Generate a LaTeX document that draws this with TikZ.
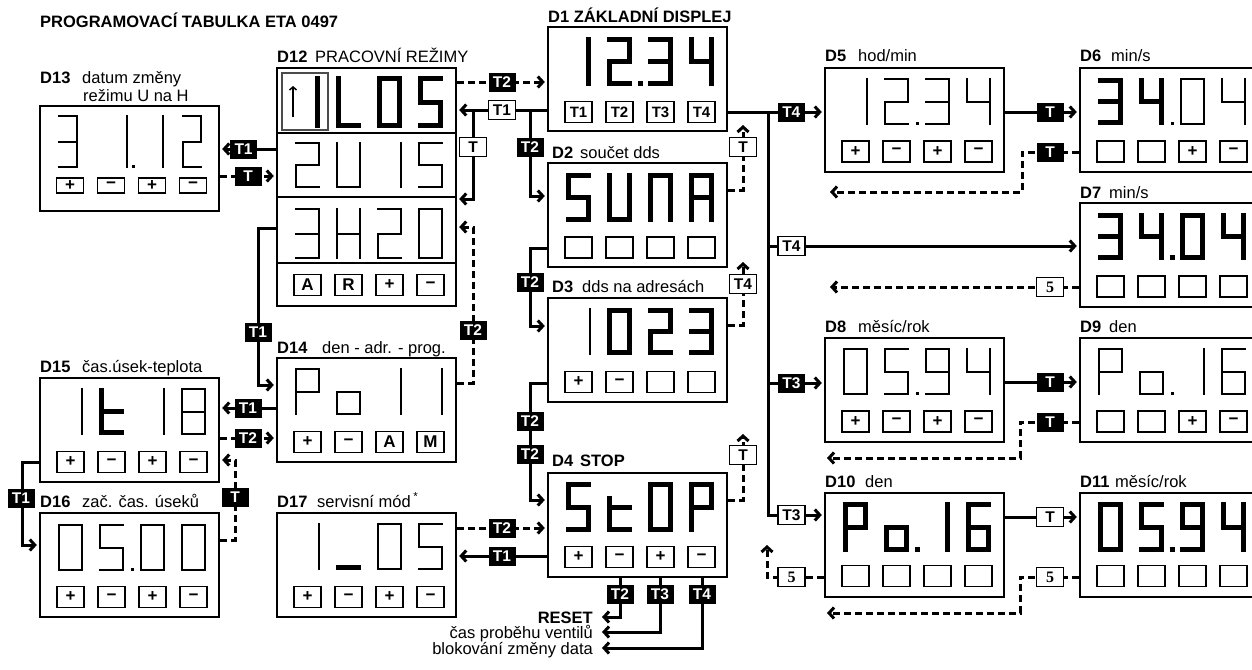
\documentclass[tikz,border=0pt]{standalone}
\usepackage{fontspec}
\setmainfont{Liberation Sans}
\newfontfamily\serf{Liberation Serif}
\usetikzlibrary{arrows.meta}

% size of one seven segment digit
\newcommand{\segw}{25}
\newcommand{\segh}{47}
% seven segment digit: [line width]{left}{top}{segments a..g}
\newcommand{\sseg}[4][2]{%
  \begin{scope}[shift={(#2,#3)},line width=#1pt,line cap=rect]
    \pgfmathsetmacro{\xa}{#1/2}
    \pgfmathsetmacro{\xb}{\segw-#1/2}
    \pgfmathsetmacro{\ym}{\segh/2}
    \pgfmathsetmacro{\yb}{\segh-#1/2}
    \foreach \s in {#4}{%
      \if a\s \draw (\xa,\xa) -- (\xb,\xa);\fi
      \if b\s \draw (\xb,\xa) -- (\xb,\ym);\fi
      \if c\s \draw (\xb,\ym) -- (\xb,\yb);\fi
      \if d\s \draw (\xa,\yb) -- (\xb,\yb);\fi
      \if e\s \draw (\xa,\ym) -- (\xa,\yb);\fi
      \if f\s \draw (\xa,\xa) -- (\xa,\ym);\fi
      \if g\s \draw (\xa,\ym) -- (\xb,\ym);\fi
    }
  \end{scope}}
% decimal point: [size]{x}{y}
\newcommand{\sdot}[3][3]{\fill ({#2-#1/2},{#3-#1/2}) rectangle +(#1,#1);}
\newcommand{\kp}{+}
\newcommand{\km}{−}

\begin{document}
\begin{tikzpicture}[x=1pt,y=-1pt,
  lbl/.style={anchor=base west,inner sep=0pt,font=\fontsize{16.5}{19}\selectfont},
  disp/.style={draw,line width=2.4pt,minimum width=179pt,minimum height=104pt,inner sep=0pt},
  key/.style={draw,line width=1.3pt,minimum width=27pt,minimum height=21pt,inner sep=0pt,font=\fontsize{17}{17}\selectfont\bfseries},
  tb/.style={fill=black,text=white,minimum width=27pt,minimum height=19pt,inner sep=0pt,font=\fontsize{15.5}{15.5}\selectfont\bfseries},
  tw/.style={tb,draw=black,line width=1.2pt,fill=white,text=black},
  wire/.style={line width=3pt,shorten >=2pt,-{Straight Barb[length=5pt,width=11pt]}},
  dwire/.style={wire,dash pattern=on 7pt off 4pt},
  bus/.style={line width=3pt}
]
\useasboundingbox (0,0) rectangle (1252,669);
\clip (0,0) rectangle (1252,669);

% title
\node[lbl,font=\fontsize{16.5}{19}\selectfont\bfseries] (title) at (40,28) {PROGRAMOVACÍ TABULKA ETA 0497};

% D13 datum zmeny
\node[disp,minimum height=105pt] (d13) at (129.5,158.5) {};
\node[lbl] (d13a) at (40,84) {\textbf{D13}};
\node[lbl] (d13b) at (82,84) {datum změny};
\node[lbl] (d13c) at (83,101) {režimu U na H};
\begin{scope}
\renewcommand{\segw}{20}\renewcommand{\segh}{53}
\sseg{58}{115}{a,b,g,c,d}
\sseg{108}{115}{b,c}
\sdot{133}{166.5}
\sseg{144}{115}{b,c}
\sseg{182}{115}{a,b,g,e,d}
\end{scope}
\foreach \t [count=\i] in {\kp,\km,\kp,\km}
  \node[key,minimum height=15pt] (d13k\i) at ({70+41*(\i-1)},185.5) {\t};

% D12 pracovni rezimy
\node[disp,minimum height=238pt] (d12) at (366.5,187) {};
\node[lbl] (d12a) at (277,63) {\textbf{D12}};
\node[lbl] (d12b) at (315,63) {PRACOVNÍ REŽIMY};
\foreach \y in {133,197,263}
  \draw[line width=1.3pt] (d12.west |- 0,\y) -- (d12.east |- 0,\y);
\draw[line width=1.2pt,black!70] (282,73) rectangle (328,130);
\draw[line width=1.5pt,-{Straight Barb[length=3pt,width=7pt]}] (293,117) -- (293,86);
\begin{scope}
\renewcommand{\segh}{52}
\sseg[5]{295}{76}{b,c}
\sseg[5]{336}{76}{f,e,d}
\sseg[5]{377}{76}{a,b,c,d,e,f}
\sseg[5]{418}{76}{a,f,g,c,d}
\end{scope}
\begin{scope}
\renewcommand{\segh}{46}
\sseg{295}{142}{a,b,g,e,d}
\sseg{336}{142}{f,e,d,c,b}
\sseg{377}{142}{b,c}
\sseg{418}{142}{a,f,g,c,d}
\end{scope}
\begin{scope}
\renewcommand{\segh}{51}
\sseg{295}{208}{a,b,g,c,d}
\sseg{336}{208}{f,e,b,c,g}
\sseg{377}{208}{a,b,g,e,d}
\sseg{418}{208}{a,b,c,d,e,f}
\end{scope}
\foreach \t [count=\i] in {A,R,\kp,\km}
  \node[key] (d12k\i) at ({307.5+41*(\i-1)},285) {\t};

% D14 den - adr. - prog.
\node[disp] (d14) at (366.5,410) {};
\node[lbl] (d14a) at (277,353) {\textbf{D14}};
\node[lbl] (d14b) at (322,353) {den - adr. - prog.};
\sseg{295}{368}{a,b,f,g,e}
\sseg{336}{368}{g,c,d,e}
\sseg{377}{368}{b,c}
\sseg{418}{368}{b,c}
\foreach \t [count=\i] in {\kp,\km,A,M}
  \node[key] (d14k\i) at ({307.5+41*(\i-1)},442) {\t};

% D15 cas.usek-teplota
\node[disp] (d15) at (129.5,430) {};
\node[lbl] (d15a) at (40,372) {\textbf{D15}};
\node[lbl] (d15b) at (82,372) {čas.úsek-teplota};
\sseg{58}{388}{b,c}
\sseg[5]{99}{388}{f,e,g,d}
\sseg{140}{388}{b,c}
\sseg{181}{388}{a,b,c,d,e,f,g}
\foreach \t [count=\i] in {\kp,\km,\kp,\km}
  \node[key] (d15k\i) at ({70.5+41*(\i-1)},462) {\t};

% D16 zac. cas. useku
\node[disp] (d16) at (129.5,565) {};
\node[lbl] (d16a) at (40,507) {\textbf{D16}};
\node[lbl] (d16b) at (82,507) {zač. čas. úseků};
\sseg{58}{524}{a,b,c,d,e,f}
\sseg{99}{524}{a,f,g,c,d}
\sdot{132}{569.5}
\sseg{140}{524}{a,b,c,d,e,f}
\sseg{181}{524}{a,b,c,d,e,f}
\foreach \t [count=\i] in {\kp,\km,\kp,\km}
  \node[key] (d16k\i) at ({70.5+41*(\i-1)},597) {\t};

% D17 servisni mod
\node[disp] (d17) at (366.5,565) {};
\node[lbl] (d17a) at (277,507) {\textbf{D17}};
\node[lbl] (d17b) at (317,507) {servisní mód\,\textsuperscript{*}};
\sseg{295}{523}{b,c}
\sseg[5]{336}{523}{d}
\sseg{377}{523}{a,b,c,d,e,f}
\sseg{418}{523}{a,f,g,c,d}
\foreach \t [count=\i] in {\kp,\km,\kp,\km}
  \node[key] (d17k\i) at ({307.5+41*(\i-1)},597) {\t};

% D1 zakladni displej
\node[disp] (d1) at (637.5,79) {};
\node[lbl] (d1a) at (548,23) {\textbf{D1 ZÁKLADNÍ DISPLEJ}};
\begin{scope}
\renewcommand{\segh}{49}
\sseg[5]{566}{37}{b,c}
\sseg[5]{607}{37}{a,b,g,e,d}
\sdot[5]{640}{83.5}
\sseg[5]{648}{37}{a,b,g,c,d}
\sseg[5]{689}{37}{f,g,b,c}
\end{scope}
\foreach \t [count=\i] in {T1,T2,T3,T4}
  \node[key,font=\fontsize{15}{15}\selectfont\bfseries] (d1k\i) at ({578.5+41*(\i-1)},112) {\t};

% D2 soucet dds
\node[disp] (d2) at (637.5,215) {};
\node[lbl] (d2a) at (552,158) {\textbf{D2}};
\node[lbl] (d2b) at (580,158) {součet dds};
\begin{scope}
\renewcommand{\segh}{49}
\sseg[5]{566}{173}{a,f,g,c,d}
\sseg[5]{607}{173}{f,e,d,c,b}
\sseg[5]{648}{173}{a,b,c,e,f}
\sseg[5]{689}{173}{a,b,c,e,f,g}
\end{scope}
\foreach \i in {1,...,4}
  \node[key] (d2k\i) at ({578.5+41*(\i-1)},247.5) {};

% D3 dds na adresach
\node[disp] (d3) at (637.5,350) {};
\node[lbl] (d3a) at (552,292) {\textbf{D3}};
\node[lbl] (d3b) at (582,292) {dds na adresách};
\sseg{566}{308}{b,c}
\sseg[5]{607}{308}{a,b,c,d,e,f}
\sseg[5]{648}{308}{a,b,g,e,d}
\sseg[5]{689}{308}{a,b,g,c,d}
\foreach \t [count=\i] in {\kp,\km,{},{}}
  \node[key] (d3k\i) at ({578.5+41*(\i-1)},382) {\t};

% D4 STOP
\node[disp] (d4) at (637.5,525) {};
\node[lbl] (d4a) at (552,466) {\textbf{D4}};
\node[lbl] (d4b) at (580,466) {\textbf{STOP}};
\begin{scope}
\renewcommand{\segh}{50}
\sseg[5]{566}{482}{a,f,g,c,d}
\sseg[5]{607}{482}{e,g,d}
\sseg[5]{648}{482}{a,b,c,d,e,f}
\sseg[5]{689}{482}{a,b,f,g,e}
\end{scope}
\draw[line width=5pt,line cap=rect] (609.5,498) -- (609.5,507);

\foreach \t [count=\i] in {\kp,\km,\kp,\km}
  \node[key] (d4k\i) at ({578.5+41*(\i-1)},557) {\t};

% D5 hod/min
\node[disp] (d5) at (914.5,120) {};
\node[lbl] (d5a) at (825,62) {\textbf{D5}};
\node[lbl] (d5b) at (858,62) {hod/min};
\sseg{843}{78}{b,c}
\sseg{884}{78}{a,b,g,e,d}
\sdot{917}{123.5}
\sseg{925}{78}{a,b,g,c,d}
\sseg{966}{78}{f,g,b,c}
\foreach \t [count=\i] in {\kp,\km,\kp,\km}
  \node[key] (d5k\i) at ({855.5+41*(\i-1)},151.5) {\t};

% D6 min/s
\node[disp] (d6) at (1169.5,120) {};
\node[lbl] (d6a) at (1080,62) {\textbf{D6}};
\node[lbl] (d6b) at (1111,62) {min/s};
\sseg[5]{1098}{78}{a,b,g,c,d}
\sseg[5]{1139}{78}{f,g,b,c}
\sdot{1172}{123.5}
\sseg{1180}{78}{a,b,c,d,e,f}
\sseg{1221}{78}{f,g,b,c}
\foreach \t [count=\i] in {{},{},\kp,\km}
  \node[key] (d6k\i) at ({1110.5+41*(\i-1)},151.5) {\t};

% D7 min/s
\node[disp] (d7) at (1169.5,255) {};
\node[lbl] (d7a) at (1080,198) {\textbf{D7}};
\node[lbl] (d7b) at (1109,198) {min/s};
\sseg[5]{1098}{213}{a,b,g,c,d}
\sseg[5]{1139}{213}{f,g,b,c}
\sdot[5]{1172}{257.5}
\sseg[5]{1180}{213}{a,b,c,d,e,f}
\sseg[5]{1221}{213}{f,g,b,c}
\foreach \i in {1,...,4}
  \node[key] (d7k\i) at ({1110.5+41*(\i-1)},286.5) {};

% D8 mesic/rok
\node[disp] (d8) at (914.5,390) {};
\node[lbl] (d8a) at (825,332) {\textbf{D8}};
\node[lbl] (d8b) at (858,332) {měsíc/rok};
\sseg{843}{348}{a,b,c,d,e,f}
\sseg{884}{348}{a,f,g,c,d}
\sdot{917}{393.5}
\sseg{925}{348}{a,b,c,d,f,g}
\sseg{966}{348}{f,g,b,c}
\foreach \t [count=\i] in {\kp,\km,\kp,\km}
  \node[key] (d8k\i) at ({855.5+41*(\i-1)},421.5) {\t};

% D9 den
\node[disp] (d9) at (1169.5,390) {};
\node[lbl] (d9a) at (1080,332) {\textbf{D9}};
\node[lbl] (d9b) at (1109,332) {den};
\sseg{1098}{348}{a,b,f,g,e}
\sseg{1139}{348}{g,c,d,e}
\sdot{1172}{393.5}
\sseg{1180}{348}{b,c}
\sseg{1221}{348}{a,f,g,e,d,c}
\foreach \t [count=\i] in {{},{},\kp,\km}
  \node[key] (d9k\i) at ({1110.5+41*(\i-1)},421.5) {\t};

% D10 den
\node[disp] (d10) at (914.5,545) {};
\node[lbl] (d10a) at (825,487) {\textbf{D10}};
\node[lbl] (d10b) at (865,487) {den};
\begin{scope}
\renewcommand{\segh}{50}
\sseg[5]{843}{502}{a,b,f,g,e}
\sseg[5]{884}{502}{g,c,d,e}
\sdot[5]{917}{549.5}
\sseg[5]{925}{502}{b,c}
\sseg[5]{966}{502}{a,f,g,e,d,c}
\end{scope}
\foreach \i in {1,...,4}
  \node[key] (d10k\i) at ({855.5+41*(\i-1)},576) {};

% D11 mesic/rok
\node[disp] (d11) at (1169.5,545) {};
\node[lbl] (d11a) at (1080,487) {\textbf{D11}};
\node[lbl] (d11b) at (1115,487) {měsíc/rok};
\begin{scope}
\renewcommand{\segh}{50}
\sseg[5]{1098}{502}{a,b,c,d,e,f}
\sseg[5]{1139}{502}{a,f,g,c,d}
\sdot[5]{1172}{549.5}
\sseg[5]{1180}{502}{a,b,c,d,f,g}
\sseg[5]{1221}{502}{f,g,b,c}
\end{scope}
\foreach \i in {1,...,4}
  \node[key] (d11k\i) at ({1110.5+41*(\i-1)},576) {};

% free ends of connectors
\coordinate (bus) at (768,112);
\coordinate (up2) at (743,123);
\coordinate (up3) at (743,260);
\coordinate (up4) at (743,432);
\coordinate (up10) at (767,543);
\coordinate (e6) at (828,192);
\coordinate (e7) at (828,287);
\coordinate (e9) at (825,458);
\coordinate (e11) at (825,613);
\coordinate (rst) at (600,617);
\coordinate (cpv) at (600,632);
\coordinate (bzd) at (600,648);

% D12 <-> D13
\draw[wire] (d12.west |- 0,149) -- (d13.east |- 0,149) node[tb,pos=0.58] (k1) {T1};
\draw[dwire] (d13.east |- 0,176) -- (d12.west |- 0,176) node[tb,midway] (k2) {T};

% D12 <-> D1, D2
\draw[dwire] (d12.east |- 0,82) -- (d1.west |- 0,82) node[tb,midway] (k3) {T2};
\draw[wire] (d1.west |- 0,110) -- (d12.east |- 0,110) node[tw,midway] (k4) {T1};
\draw[wire] (473,110) -- (473,199) -- (d12.east |- 0,199);
\node[tw] (k5) at (473,147) {T};
\draw[wire] (530,110) -- (530,196) -- (d2.west |- 0,196);
\node[tb] (k6) at (530,147) {T2};

% D12 <-> D14
\draw[dwire] (d14.east |- 0,383) -- (473,383) -- (473,227) -- (d12.east |- 0,227);
\node[tb] (k7) at (473,330) {T2};
\draw[wire] (d12.west |- 0,228) -- (258,228) -- (258,385) -- (d14.west |- 0,385);
\node[tb] (k8) at (258,332) {T1};

% D2 -> D3 -> D4
\draw[wire] (d2.west |- 0,248) -- (530,248) -- (530,326) -- (d3.west |- 0,326);
\node[tb] (k9) at (530,282) {T2};
\draw[wire] (d3.west |- 0,383) -- (530,383) -- (530,500) -- (d4.west |- 0,500);
\node[tb] (k10) at (530,421) {T2};
\node[tb] (k11) at (530,454) {T2};

% D17 <-> D4
\draw[dwire] (d17.east |- 0,528) -- (d4.west |- 0,528) node[tb,midway] (k12) {T2};
\draw[wire] (d4.west |- 0,556) -- (d17.east |- 0,556) node[tb,midway] (k13) {T1};

% back arrows right of D2, D3, D4
\draw[dwire] (d2.east |- 0,190) -| (up2);
\node[tw] (k14) at (743,147) {T};
\draw[dwire] (d3.east |- 0,325) -| (up3);
\node[tw] (k15) at (743,284) {T4};
\draw[dwire] (d4.east |- 0,500) -| (up4);
\node[tw] (k16) at (743,455) {T};

% D1 -> D5, D7, D8, D10
\draw[wire] (d1.east |- 0,112) -- (d5.west |- 0,112) node[tb,pos=0.66] (k17) {T4};
\draw[wire] (bus) -- (768,515) -- (d10.west |- 0,515);
\node[tw] (k18) at (791.5,515) {T3};
\draw[wire] (768,246) -- (d7.west |- 0,246);
\node[tw] (k19) at (791.5,246) {T4};
\draw[wire] (768,383) -- (d8.west |- 0,383);
\node[tb] (k20) at (791.5,383) {T3};
\draw[dwire] (d10.west |- 0,577) -| (up10);
\node[tw,font=\fontsize{16}{16}\selectfont\serf\bfseries] (k21) at (791.5,577) {5};

% D5 <-> D6, D7
\draw[wire] (d5.east |- 0,112) -- (d6.west |- 0,112) node[tb,pos=0.61] (k22) {T};
\draw[dwire] (d6.west |- 0,152) -- (1022,152) -- (1022,192) -- (e6);
\node[tb] (k23) at (1050,152) {T};
\draw[dwire] (d7.west |- 0,287) -- (e7);
\node[tw,font=\fontsize{16}{16}\selectfont\serf\bfseries] (k24) at (1050,287) {5};

% D8 <-> D9
\draw[wire] (d8.east |- 0,382) -- (d9.west |- 0,382) node[tb,pos=0.61] (k25) {T};
\draw[dwire] (d9.west |- 0,422) -- (1020,422) -- (1020,458) -- (e9);
\node[tb] (k26) at (1050,422) {T};

% D10 <-> D11
\draw[wire] (d10.east |- 0,517) -- (d11.west |- 0,517) node[tw,pos=0.61] (k27) {T};
\draw[dwire] (d11.west |- 0,577) -- (1020,577) -- (1020,613) -- (e11);
\node[tw,font=\fontsize{16}{16}\selectfont\serf\bfseries] (k28) at (1050,577) {5};

% D14, D15, D16
\draw[wire] (d14.west |- 0,408) -- (d15.east |- 0,408) node[tb,midway] (k29) {T1};
\draw[dwire] (d15.east |- 0,438) -- (d14.west |- 0,438) node[tb,midway] (k30) {T2};
\draw[dwire] (d16.east |- 0,540) -- (235,540) -- (235,460) -- (d15.east |- 0,460);
\node[tb] (k31) at (235,497) {T};
\draw[wire] (d15.west |- 0,462) -- (22,462) -- (22,545) -- (d16.west |- 0,545);
\node[tb] (k32) at (21,498) {T1};

% D4 outputs
\draw[wire] (d4.south -| 620,0) |- (rst);
\node[tb] (k33) at (620,594) {T2};
\draw[wire] (d4.south -| 660,0) |- (cpv);
\node[tb] (k34) at (660,594) {T3};
\draw[wire] (d4.south -| 702,0) |- (bzd);
\node[tb] (k35) at (702,594) {T4};
\node[lbl,anchor=base east] (rsta) at (593,623) {\textbf{RESET}};
\node[lbl,anchor=base east] (cpva) at (593,638) {čas proběhu ventilů};
\node[lbl,anchor=base east] (bzda) at (593,654) {blokování změny data};
\end{tikzpicture}
\end{document}
